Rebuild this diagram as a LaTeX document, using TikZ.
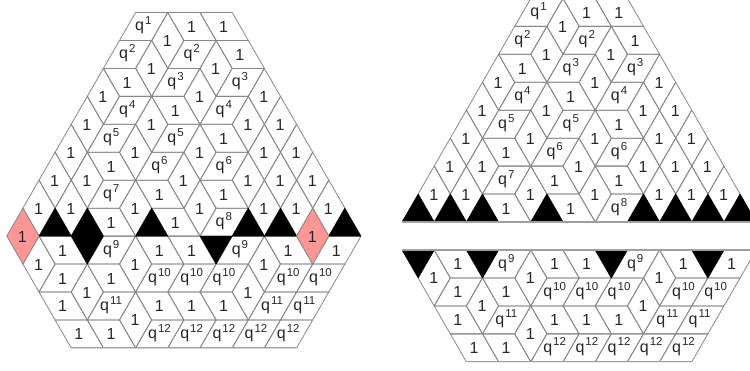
\documentclass[tikz,border=0pt]{standalone}
\usepackage{fontspec}
\setmainfont{Liberation Sans}
\newcount\labcount
\def\cellw{32.2}
\def\rowh{27.95}
\def\cx{183.9}
\def\yo{12.5}
\newcommand\PP[2]{({\cx+\cellw*((#1)-1.5-(#2)/2)},{\yo+\rowh*(#2)})}
\newcommand\putlab[3]{% x-offset in cells, y in rows, n
  \global\advance\labcount by 1
  \ifnum#3=0
    \node[tlab,name=lab\the\labcount] at ({\cx+\cellw*(#1)-.5},{\yo+\rowh*(#2)+6}) {1};
  \else
    \node[tlab,name=lab\the\labcount] at ({\cx+\cellw*(#1)-.3},{\yo+\rowh*(#2)+4.3}) {q\kern1pt\raisebox{6.2pt}{\fontsize{11.5}{11.5}\selectfont #3}};
  \fi}
\newcommand\tL[3]{\draw[edge] \PP{#1}{#2} -- \PP{#1+1}{#2} -- \PP{#1+1}{#2+1} -- \PP{#1}{#2+1} -- cycle;
  \putlab{#1-1.25-#2/2}{#2+.5}{#3}}
\newcommand\tR[3]{\draw[edge] \PP{#1}{#2} -- \PP{#1+1}{#2} -- \PP{#1+2}{#2+1} -- \PP{#1+1}{#2+1} -- cycle;
  \putlab{#1-.75-#2/2}{#2+.5}{#3}}
\newcommand\tV[2]{\draw[edge] \PP{#1}{#2} -- \PP{#1}{#2+1} -- \PP{#1+1}{#2+2} -- \PP{#1+1}{#2+1} -- cycle;
  \putlab{#1-1.5-#2/2}{#2+1}{0}}
\newcommand\upT[2]{\fill[black,draw=black,edge black] \PP{#1}{#2} -- \PP{#1}{#2+1} -- \PP{#1+1}{#2+1} -- cycle;}
\newcommand\dnT[2]{\fill[black,draw=black,edge black] \PP{#1}{#2} -- \PP{#1+1}{#2} -- \PP{#1+1}{#2+1} -- cycle;}
\newcommand\UpperTiles{%
  \tL{0}{0}{1}\tV{1}{0}\tR{1}{0}{0}\tR{2}{0}{0}%
  \tL{0}{1}{2}\tV{1}{1}\tL{2}{1}{2}\tV{3}{1}\tR{3}{1}{0}%
  \tR{0}{2}{0}\tV{0}{2}\tL{2}{2}{3}\tV{3}{2}\tL{4}{2}{3}\tV{5}{2}%
  \tL{1}{3}{4}\tV{0}{3}\tR{2}{3}{0}\tV{2}{3}\tL{4}{3}{4}\tV{5}{3}\tV{6}{3}%
  \tL{1}{4}{5}\tV{0}{4}\tV{2}{4}\tL{3}{4}{5}\tV{4}{4}\tR{4}{4}{0}\tV{6}{4}\tV{7}{4}%
  \tR{1}{5}{0}\tV{0}{5}\tV{1}{5}\tL{3}{5}{6}\tV{4}{5}\tL{5}{5}{6}\tV{6}{5}\tV{7}{5}\tV{8}{5}%
  \tV{0}{6}\tV{1}{6}\tL{2}{6}{7}\tV{3}{6}\tR{3}{6}{0}\tV{5}{6}\tR{5}{6}{0}\tV{7}{6}\tV{8}{6}\tV{9}{6}%
  \tR{2}{7}{0}\tR{4}{7}{0}\tL{6}{7}{8}}
\newcommand\LowerTiles{%
  \tV{1}{8}\tR{1}{8}{0}\tL{3}{8}{9}\tV{4}{8}\tR{4}{8}{0}\tR{5}{8}{0}\tL{7}{8}{9}\tV{8}{8}\tR{8}{8}{0}\tL{10}{8}{0}%
  \tL{2}{9}{0}\tV{3}{9}\tR{3}{9}{0}\tL{5}{9}{10}\tL{6}{9}{10}\tL{7}{9}{10}\tV{8}{9}\tL{9}{9}{10}\tL{10}{9}{10}%
  \tR{2}{10}{0}\tL{4}{10}{11}\tV{5}{10}\tR{5}{10}{0}\tR{6}{10}{0}\tR{7}{10}{0}\tL{9}{10}{11}\tL{10}{10}{11}%
  \tR{3}{11}{0}\tR{4}{11}{0}\tL{6}{11}{12}\tL{7}{11}{12}\tL{8}{11}{12}\tL{9}{11}{12}\tL{10}{11}{12}}
\definecolor{tilegray}{RGB}{135,135,135}
\definecolor{lozpink}{RGB}{255,150,150}
\tikzset{
  edge/.style={draw=tilegray,line width=.8pt,line join=round},
  edge black/.style={line width=.5pt,line join=round},
  tlab/.style={anchor=base,inner sep=0pt,text=black!85,font=\fontsize{16}{16}\selectfont},
  cut/.style={draw=tilegray!80,line width=1.1pt}
}
\begin{document}
\begin{tikzpicture}[x=1pt,y=-1pt]
\useasboundingbox (0,0) rectangle (750,370);
\clip (0,0) rectangle (750,370);
% left panel
\def\cx{183.9}\def\yo{12.5}
\UpperTiles
\LowerTiles
\foreach \aa in {1,4,7,8,10} {\upT{\aa}{7}}
\dnT{6}{8}
\fill[black,draw=black,edge black] \PP{2}{7} -- \PP{2}{8} -- \PP{3}{9} -- \PP{3}{8} -- cycle;
\foreach \aa in {0,9} {
  \draw[edge,fill=lozpink] \PP{\aa}{7} -- \PP{\aa}{8} -- \PP{\aa+1}{9} -- \PP{\aa+1}{8} -- cycle;
  \global\advance\labcount by 1
  \node[tlab,name=lab\the\labcount] at ({\cx+\cellw*(\aa-5)-.5},{\yo+\rowh*8+6}) {1};
}
\draw[cut] \PP{4}{12} -- \PP{11}{12};
% right panel, upper part
\def\cx{579.1}\def\yo{-1.6}
\UpperTiles
\foreach \aa in {0,1,2,4,7,8,9,10} {\upT{\aa}{7}}
\draw[cut] \PP{0}{8} -- \PP{11}{8};
% right panel, lower part
\def\yo{26.4}
\LowerTiles
\foreach \aa in {0,2,6,9} {\dnT{\aa}{8}}
\draw[cut] \PP{0}{8} -- \PP{11}{8};
\draw[cut] \PP{4}{12} -- \PP{11}{12};
\end{tikzpicture}
\end{document}
